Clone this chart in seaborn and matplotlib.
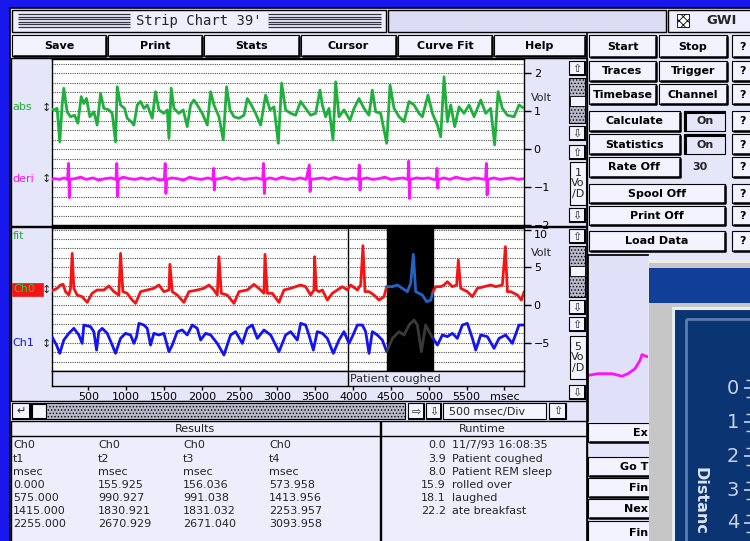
# -*- coding: utf-8 -*-
"""
Strip Chart 39' 화면 재현 (seaborn + matplotlib)
"""
import numpy as np
import pandas as pd
import matplotlib
matplotlib.use('Agg')
import matplotlib.pyplot as plt
from matplotlib.patches import Rectangle
import seaborn as sns

sns.set_theme(style='white')
plt.rcParams['font.family'] = ['DejaVu Sans']
plt.rcParams['hatch.linewidth'] = 0.6

# ============================================================================
# 데이터 (msec, Volt) - 화면에서 읽은 값
# ============================================================================
abs_t = [20, 44, 88, 123, 154, 176, 220, 265, 318, 362, 406, 441, 476, 520, 573, 617, 662, 706, 772, 816,
         860, 882, 926, 979, 1014, 1067, 1103, 1147, 1191, 1235, 1279, 1345, 1389, 1433, 1499, 1544, 1566,
         1596, 1632, 1698, 1755, 1808, 1852, 1896, 1940, 2007, 2073, 2117, 2161, 2227, 2284, 2328, 2373,
         2426, 2492, 2558, 2602, 2655, 2712, 2778, 2844, 2902, 2955, 3012, 3056, 3109, 3175, 3241, 3307,
         3373, 3439, 3505, 3563, 3594, 3638, 3682, 3735, 3770, 3814, 3880, 3960, 4013, 4079, 4145, 4211,
         4255, 4299, 4365, 4445, 4489, 4542, 4608, 4674, 4740, 4806, 4872, 4916, 4991, 5049, 5115, 5159,
         5203, 5247, 5291, 5344, 5401, 5467, 5534, 5600, 5688, 5754, 5820, 5872, 5917, 5974, 6040, 6128,
         6194, 6261]
abs_v = [1.05, 1.03, 1.07, 0.19, 1.16, 1.60, 0.98, 0.85, 0.89, 0.68, 1.38, 1.20, 1.33, 0.85, 0.98, 0.63,
         1.46, 1.07, 1.03, 0.94, 0.19, 1.64, 1.16, 1.07, 0.81, 0.72, 0.63, 1.16, 1.25, 1.07, 1.16, 0.81,
         1.51, 1.03, 0.94, 1.03, 0.28, 1.60, 1.07, 0.94, 1.03, 0.59, 1.16, 1.29, 1.16, 0.94, 0.63, 1.51,
         1.16, 0.85, 0.24, 1.64, 1.03, 0.85, 0.81, 0.89, 1.33, 1.16, 0.94, 0.63, 1.42, 1.03, 1.11, 0.15,
         1.73, 1.03, 0.94, 0.89, 1.25, 1.07, 0.89, 0.94, 1.55, 1.16, 0.85, 1.07, 0.24, 1.77, 0.85, 1.03,
         0.76, 1.07, 1.33, 1.07, 0.89, 1.55, 0.98, 0.94, 0.15, 1.68, 1.07, 0.85, 0.72, 1.25, 1.16, 0.94,
         0.85, 1.42, 0.94, 0.63, 0.32, 1.90, 0.72, 1.16, 0.59, 1.11, 0.94, 1.16, 0.85, 1.29, 0.94, 1.07,
         0.11, 1.51, 1.07, 0.89, 0.85, 1.16, 1.07]

deri_t = [20, 60, 120, 180, 225, 238, 248, 258, 320, 400, 470, 560, 640, 720, 800, 865, 877, 887, 897,
          960, 1040, 1120, 1200, 1280, 1360, 1440, 1505, 1516, 1526, 1536, 1600, 1680, 1760, 1840, 1920,
          2000, 2080, 2145, 2156, 2166, 2176, 2240, 2320, 2400, 2480, 2560, 2640, 2720, 2805, 2817, 2827,
          2837, 2900, 2980, 3060, 3140, 3220, 3300, 3380, 3422, 3432, 3442, 3520, 3600, 3680, 3760, 3840,
          3920, 4000, 4072, 4082, 4092, 4102, 4180, 4260, 4340, 4420, 4500, 4580, 4660, 4725, 4736, 4746,
          4756, 4840, 4920, 5000, 5060, 5100, 5110, 5120, 5130, 5200, 5280, 5360, 5440, 5520, 5600, 5680,
          5752, 5762, 5772, 5782, 5860, 5940, 6020, 6100, 6180, 6260]
deri_v = [-0.80, -0.78, -0.80, -0.76, -0.80, -0.38, -1.28, -0.80, -0.78, -0.74, -0.80, -0.76, -0.82,
          -0.78, -0.76, -0.80, -0.38, -1.25, -0.80, -0.74, -0.78, -0.80, -0.76, -0.80, -0.76, -0.82,
          -0.80, -0.38, -1.17, -0.80, -0.76, -0.78, -0.82, -0.74, -0.78, -0.80, -0.76, -0.80, -0.51,
          -1.08, -0.80, -0.78, -0.74, -0.80, -0.76, -0.80, -0.78, -0.76, -0.80, -0.38, -1.17, -0.80,
          -0.76, -0.80, -0.74, -0.78, -0.80, -0.76, -0.80, -0.42, -1.12, -0.80, -0.78, -0.76, -0.80,
          -0.74, -0.78, -0.80, -0.76, -0.80, -0.42, -1.08, -0.80, -0.76, -0.80, -0.78, -0.74, -0.80,
          -0.78, -0.76, -0.80, -0.32, -1.30, -0.80, -0.76, -0.78, -0.76, -0.80, -0.80, -0.51, -1.03,
          -0.80, -0.76, -0.80, -0.74, -0.78, -0.80, -0.76, -0.78, -0.80, -0.38, -1.21, -0.80, -0.76,
          -0.80, -0.78, -0.76, -0.80, -0.78]

ch0_t = [20, 44, 88, 132, 168, 198, 243, 265, 287, 309, 353, 419, 485, 551, 617, 706, 772, 838, 904,
         926, 957, 1014, 1080, 1125, 1191, 1279, 1367, 1433, 1499, 1566, 1579, 1610, 1676, 1764, 1830,
         1940, 2029, 2095, 2161, 2205, 2227, 2258, 2337, 2426, 2492, 2602, 2690, 2778, 2822, 2836, 2866,
         2933, 3021, 3087, 3175, 3307, 3373, 3439, 3483, 3492, 3514, 3550, 3594, 3660, 3726, 3792, 3858,
         3924, 3968, 4057, 4101, 4131, 4158, 4211, 4277, 4343, 4409, 4445, 4520, 4586, 4652, 4718, 4762,
         4797, 4828, 4872, 4916, 4974, 5027, 5057, 5093, 5159, 5203, 5247, 5313, 5370, 5392, 5423, 5511,
         5578, 5644, 5732, 5820, 5886, 5974, 6014, 6040, 6085, 6173, 6226, 6261]
ch0_v = [1.90, 1.99, 2.21, 2.65, 2.74, 1.77, 1.32, 2.21, 6.84, 2.21, 1.32, 1.10, 0.35, 1.55, 1.99, 1.99,
         2.52, 1.77, 1.32, 6.84, 1.77, 1.55, 0.66, 0.22, 1.77, 1.99, 2.21, 2.65, 1.77, 1.99, 5.39, 1.77,
         1.32, 0.35, 1.77, 1.99, 2.21, 2.65, 1.99, 1.32, 6.40, 1.55, 1.32, 0.22, 1.77, 1.99, 2.74, 1.99,
         1.55, 6.71, 1.55, 1.55, 0.35, 1.99, 2.21, 2.65, 2.43, 1.32, 1.99, 6.40, 1.99, 1.77, 1.99, 0.66,
         1.55, 1.99, 2.43, 1.99, 2.65, 1.99, 2.65, 7.86, 1.77, 1.77, 1.32, 0.66, 1.10, 2.43, 2.43, 2.65,
         2.21, 1.77, 2.87, 6.71, 1.77, 1.55, 1.32, 0.44, 0.66, 1.77, 2.43, 2.43, 2.65, 3.09, 2.43, 2.65,
         5.96, 2.21, 1.77, 1.10, 2.21, 2.43, 2.65, 2.43, 2.65, 7.73, 1.77, 1.77, 1.32, 0.66, 1.77]

ch1_t = [20, 44, 79, 123, 176, 243, 309, 375, 419, 441, 529, 573, 609, 639, 684, 750, 816, 860, 926,
         992, 1058, 1103, 1138, 1169, 1235, 1279, 1323, 1367, 1433, 1499, 1566, 1610, 1676, 1742, 1808,
         1874, 1940, 1985, 2051, 2117, 2205, 2293, 2381, 2448, 2536, 2602, 2668, 2734, 2822, 2911, 3021,
         3109, 3175, 3263, 3307, 3373, 3417, 3475, 3527, 3594, 3660, 3739, 3814, 3880, 3946, 3990, 4057,
         4123, 4167, 4211, 4255, 4321, 4387, 4445, 4520, 4608, 4674, 4740, 4806, 4850, 4903, 4960, 5005,
         5057, 5115, 5181, 5247, 5313, 5379, 5445, 5511, 5578, 5622, 5688, 5776, 5864, 5930, 6018, 6106,
         6194, 6261]
ch1_v = [-4.20, -4.64, -5.30, -6.40, -4.64, -3.75, -3.09, -3.97, -5.08, -2.65, -2.87, -3.53, -5.96,
         -3.53, -3.09, -3.75, -5.30, -6.40, -4.42, -3.75, -3.97, -5.08, -4.19, -2.43, -2.65, -3.09,
         -5.30, -3.75, -3.97, -3.75, -6.18, -5.30, -3.53, -3.31, -3.97, -2.65, -3.09, -4.64, -3.75,
         -3.97, -5.08, -6.62, -3.97, -3.53, -5.08, -3.09, -2.65, -4.42, -3.31, -3.97, -6.18, -3.97,
         -3.53, -4.64, -2.43, -2.65, -3.97, -5.96, -3.53, -3.75, -4.42, -6.40, -4.64, -3.53, -5.08,
         -4.19, -2.65, -2.65, -3.53, -6.40, -3.53, -3.97, -4.64, -6.18, -4.42, -3.53, -3.97, -2.65,
         -1.99, -2.65, -6.18, -2.65, -3.53, -4.42, -5.30, -3.97, -4.19, -3.75, -4.42, -2.65, -2.43,
         -4.42, -5.96, -3.97, -4.19, -5.74, -4.42, -3.97, -5.08, -2.65, -2.65]

# 작은 미리보기 패널의 트레이스
mini_t = [0, 10, 24, 34, 40, 47, 52, 54, 58, 61]
mini_v = [-0.45, -0.43, -0.43, -0.46, -0.43, -0.37, -0.27, -0.20, -0.22, -0.23]

# 커서 구간 / 이벤트
hl_start, hl_end = 4445, 5057
event_ms = 3930
event_label = 'Patient coughed'

# 축 눈금
top_yticks = [2, 1, 0, -1, -2]
bot_yticks = [10, 5, 0, -5]
x_ticks = [500, 1000, 1500, 2000, 2500, 3000, 3500, 4000, 4500, 5000, 5500, 6000]

# Results 표
res_cols = ['t1', 't2', 't3', 't4']
res_t1 = [0.000, 575.000, 1415.000, 2255.000]
res_t2 = [155.925, 990.927, 1830.921, 2670.929]
res_t3 = [156.036, 991.038, 1831.032, 2671.040]
res_t4 = [573.958, 1413.956, 2253.957, 3093.958]

# Runtime 로그
runtime_s = [0.0, 3.9, 8.0, 15.9, 18.1, 22.2]
runtime_note = ['11/7/93 16:08:35', 'Patient coughed', 'Patient REM sleep',
                'rolled over', 'laughed', 'ate breakfast']

# 색상
BLUE_BG = '#1818EC'
LAV = '#E6E6FA'
BTN = '#F3F3FF'
GREEN = '#1FAF3C'
MAGENTA = '#FF10FF'
RED = '#F41414'
BLUE = '#1414F0'
HL_BLUE = '#2464C4'
HL_DARK = '#3A3A3A'
LW = 2.0

W, H = 750, 541
fig = plt.figure(figsize=(7.5, 5.41), dpi=100)
fig.patch.set_facecolor(BLUE_BG)

ui = fig.add_axes([0, 0, 1, 1], zorder=0)
ui.set_xlim(0, W)
ui.set_ylim(H, 0)
ui.set_autoscale_on(False)
ui.axis('off')


def rect(x0, y0, x1, y1, fc, ec='black', lw=0.8, ax=ui, **kw):
    ax.add_patch(Rectangle((x0, y0), x1 - x0, y1 - y0, facecolor=fc, edgecolor=ec, linewidth=lw, **kw))


def line(xs, ys, color='black', lw=1.0, ax=ui):
    ax.plot(xs, ys, color=color, lw=lw, solid_capstyle='butt')


def button(x0, y0, x1, y1, label, fs=8, bold=True, ax=ui, tx=None, ha='center'):
    rect(x0, y0, x1, y1, BTN, ax=ax)
    line([x0 + 1, x1, x1], [y1, y1, y0 + 1], lw=1.8, ax=ax)
    if label:
        if tx is None:
            tx = (x0 + x1) / 2
        ax.text(tx, (y0 + y1) / 2 + 0.5, label, ha=ha, va='center', fontsize=fs,
                fontweight='bold' if bold else 'normal', color='black')


def arrow_btn(x0, y0, x1, y1, glyph):
    rect(x0, y0, x1, y1, BTN)
    line([x0 + 1, x1, x1], [y1, y1, y0 + 1], lw=1.4)
    ui.text((x0 + x1) / 2, (y0 + y1) / 2 + 0.5, glyph, ha='center', va='center', fontsize=8)


def px_axes(x0, y0, x1, y1, z=2):
    return fig.add_axes([x0 / W, 1 - y1 / H, (x1 - x0) / W, (y1 - y0) / H], zorder=z)


# ============================================================================
# 바탕 / 타이틀바 / 상단 버튼
# ============================================================================
rect(10, 8, 760, 560, LAV, lw=1.2)
rect(12, 10, 386, 32, '#EEEEFC', lw=1.0)
for yy in [14, 16.5, 19, 21.5, 24, 26.5]:
    line([18, 130], [yy, yy], color='#333344', lw=0.9)
    line([268, 381], [yy, yy], color='#333344', lw=0.9)
ui.text(199, 20.5, "Strip Chart 39'", ha='center', va='center', fontsize=10, family='DejaVu Sans Mono')
rect(388, 10, 666, 32, '#DCDCF4', lw=1.0)
rect(668, 10, 760, 32, '#EEEEFC', lw=1.0)
rect(677, 14, 689, 27, 'white', ec='black', lw=0.6, hatch='xxxx')
ui.text(722, 20.5, 'GWI', ha='center', va='center', fontsize=9.5, fontweight='bold')

top_buttons = [(12, 106, 'Save'), (108, 202, 'Print'), (204, 299, 'Stats'),
               (301, 396, 'Cursor'), (398, 492, 'Curve Fit'), (494, 585, 'Help')]
for x0, x1, lab in top_buttons:
    button(x0, 35, x1, 56, lab)

# 오른쪽 컨트롤 버튼
button(589, 35, 656, 57, 'Start')
button(659, 35, 727, 57, 'Stop')
button(589, 61, 656, 81, 'Traces')
button(659, 61, 727, 81, 'Trigger')
button(589, 84, 656, 104, 'Timebase')
button(659, 84, 727, 104, 'Channel')
button(589, 111, 680, 131, 'Calculate')
button(589, 134, 680, 154, 'Statistics')
button(589, 157, 680, 177, 'Rate Off')
for yy0, yy1 in [(111, 131), (134, 154)]:
    rect(684, yy0, 725, yy1, LAV, lw=0.8)
    line([685, 685, 725], [yy1, yy0 + 0.5, yy0 + 0.5], lw=2.2)
    ui.text(705, (yy0 + yy1) / 2 + 0.5, 'On', ha='center', va='center', fontsize=8, fontweight='bold')
ui.text(700, 167.5, '30', ha='center', va='center', fontsize=8, fontweight='bold')
button(589, 184, 725, 203, 'Spool Off')
button(589, 206, 725, 225, 'Print Off')
button(589, 231, 725, 251, 'Load Data')
for yy0, yy1 in [(35, 57), (61, 81), (84, 104), (111, 131), (134, 154), (157, 177),
                 (184, 203), (206, 225), (231, 251)]:
    button(732, yy0, 760, yy1, '?', tx=743)

line([587, 587], [33, 545], lw=1.2)

# ============================================================================
# 차트 패널 배경 / 왼쪽 라벨
# ============================================================================
rect(11, 58, 587, 226, LAV, lw=1.0)
rect(11, 227, 587, 401, LAV, lw=1.0)

ui.text(12, 107, 'abs', color=GREEN, fontsize=8, va='center')
ui.text(12, 179, 'deri', color=MAGENTA, fontsize=8, va='center')
ui.text(13, 236, 'fit', color=GREEN, fontsize=8, va='center')
rect(12, 283, 43, 296, RED, ec=RED, lw=0.5)
ui.text(13, 289.5, 'Ch0', color='#20D040', fontsize=8, va='center')
ui.text(12, 343, 'Ch1', color=BLUE, fontsize=8, va='center')
for yy in [108, 179, 290, 344]:
    ui.text(46, yy, '\u2195', fontsize=8, ha='center', va='center')

# 스크롤 컬럼 (위/아래 차트)
for (u0, s0, s1, th, d0, u1, b0, b1, d1, scale) in [
        (61, 78, 123, 96, 126, 145, 162, 205, 208, '1\nVo\n/D'),
        (229, 246, 297, 266, 300, 317, 336, 379, 385, '5\nVo\n/D')]:
    arrow_btn(569, u0, 585, u0 + 14, '\u21e7')
    rect(569, s0, 585, s1, '#B8B8C8', ec='black', lw=0.8, hatch='.....')
    rect(570, th, 585, th + 10, '#F4F4FF', lw=0.6)
    arrow_btn(569, d0, 585, d0 + 14, '\u21e9')
    arrow_btn(569, u1, 585, u1 + 14, '\u21e7')
    rect(570, b0, 586, b1, '#F4F4FF', lw=0.8)
    ui.text(578, (b0 + b1) / 2, scale, ha='center', va='center', fontsize=8, linespacing=1.05)
    arrow_btn(569, d1, 585, d1 + 14, '\u21e9')

ui.text(531, 98, 'Volt', fontsize=8, va='center')
ui.text(531, 253, 'Volt', fontsize=8, va='center')

# 하단 스크롤 줄
arrow_btn(12, 403, 30, 419, '\u21b5')
rect(31, 403, 405, 419, '#B8B8C8', ec='black', lw=0.8, hatch='.....')
rect(32, 404, 46, 418, '#F4F4FF', lw=0.8)
arrow_btn(408, 403, 424, 419, '\u21e8')
arrow_btn(426, 403, 441, 419, '\u21e9')
rect(443, 403, 546, 419, '#F4F4FF', lw=0.8)
ui.text(449, 411.5, '500 msec/Div', fontsize=8, va='center')
arrow_btn(549, 403, 566, 419, '\u21e7')

# ============================================================================
# 위 차트 : abs / deri
# ============================================================================
def style_chart(ax, ylim, majors, minors, labels):
    ax.set_facecolor('white')
    for s in ax.spines.values():
        s.set_visible(True)
        s.set_color('black')
        s.set_linewidth(1.0)
    ax.set_xlim(20, 6260)
    ax.set_ylim(*ylim)
    ax.set_xticks([])
    ax.set_yticks(majors)
    ax.set_yticklabels(labels)
    ax.set_yticks(minors, minor=True)
    ax.yaxis.tick_right()
    ax.tick_params(axis='y', which='major', right=True, left=False, labelright=True, labelleft=False,
                   direction='out', length=5, width=1, color='black', labelsize=8, labelcolor='black', pad=2)
    ax.tick_params(axis='y', which='minor', length=0)
    ax.set_axisbelow(True)
    ax.grid(True, which='both', axis='y', color='#505050', linestyle=(0, (1, 1)), linewidth=0.8)
    ax.set_xlabel('')
    ax.set_ylabel('')


ax1 = px_axes(52, 59, 524, 225)
sns.lineplot(x=abs_t, y=abs_v, ax=ax1, color=GREEN, lw=LW, estimator=None, sort=False, zorder=3)
sns.lineplot(x=deri_t, y=deri_v, ax=ax1, color=MAGENTA, lw=LW, estimator=None, sort=False, zorder=3)
style_chart(ax1, (-2.0, 2.37), top_yticks, np.arange(-1.75, 2.3, 0.25),
            ['2', '1', '0', '\u22121', '\u22122'])

# ============================================================================
# 아래 차트 : Ch0 / Ch1
# ============================================================================
ax2 = px_axes(52, 228, 524, 371)
ax2.axvspan(hl_start, hl_end, color='black', zorder=1.5)
ax2.axvline(event_ms, color='black', lw=1.0, zorder=2)


def split_plot(ax, t, v, c_out, c_in):
    df = pd.DataFrame({'t': t, 'v': v})
    parts = [(df[df.t <= hl_start], c_out),
             (df[(df.t >= hl_start) & (df.t <= hl_end)], c_in),
             (df[df.t >= hl_end], c_out)]
    for part, c in parts:
        sns.lineplot(data=part, x='t', y='v', ax=ax, color=c, lw=LW, estimator=None, sort=False, zorder=3)


split_plot(ax2, ch0_t, ch0_v, RED, HL_BLUE)
split_plot(ax2, ch1_t, ch1_v, BLUE, HL_DARK)
style_chart(ax2, (-8.74, 10.2), bot_yticks, np.arange(-7.5, 8.8, 1.25),
            ['10', '5', '0', '\u22125'])
ax2.get_yticklabels()[0].set_va('top')

# 이벤트 줄 + x축
ax_ev = px_axes(52, 371, 524, 386)
ax_ev.set_facecolor(LAV)
for s in ax_ev.spines.values():
    s.set_visible(True)
    s.set_color('black')
    s.set_linewidth(1.0)
ax_ev.set_xlim(20, 6260)
ax_ev.set_ylim(0, 1)
ax_ev.set_yticks([])
ax_ev.set_xticks(x_ticks)
ax_ev.set_xticklabels([str(x) for x in x_ticks[:-1]] + ['msec'])
ax_ev.tick_params(axis='x', bottom=True, direction='out', length=3, width=1, color='black',
                  labelsize=8, labelcolor='black', pad=1.5)
ax_ev.axvline(event_ms, color='black', lw=1.0)
ax_ev.text(event_ms + 30, 0.45, event_label, fontsize=8, va='center', ha='left')

# ============================================================================
# Results / Runtime
# ============================================================================
rect(11, 421, 380, 560, '#EDEDFB', lw=1.0)
line([11, 380], [436, 436], lw=1.0)
ui.text(195, 429, 'Results', ha='center', va='center', fontsize=8)
res_x = [13, 98, 183, 269]
res_y = [445, 458.5, 472, 485, 498, 511, 524]
for i, (col, vals) in enumerate(zip(res_cols, [res_t1, res_t2, res_t3, res_t4])):
    cells = ['Ch0', col, 'msec'] + [f'{v:.3f}' for v in vals]
    for yy, txt in zip(res_y, cells):
        ui.text(res_x[i], yy, txt, fontsize=8, va='center')

rect(381, 421, 587, 560, '#EDEDFB', lw=1.0)
line([381, 587], [436, 436], lw=1.0)
ui.text(482, 429, 'Runtime', ha='center', va='center', fontsize=8)
for yy, s, note in zip(res_y, runtime_s, runtime_note):
    ui.text(446, yy, f'{s:.1f}', ha='right', va='center', fontsize=8)
    ui.text(452, yy, note, ha='left', va='center', fontsize=8)

# 오른쪽 아래 버튼 (겹친 창에 가려진 부분)
for yy0, yy1, lab in [(423, 442, 'Ex'), (457, 476, 'Go T'), (478, 497, 'Fin'),
                      (499, 518, 'Nex'), (521, 545, 'Fin')]:
    button(588, yy0, 660, yy1, lab, tx=648, ha='right')

# 미니 트레이스 패널
axm = px_axes(588, 255, 648, 421, z=2)
axm.set_facecolor('#E0E0F8')
sns.lineplot(x=mini_t, y=mini_v, ax=axm, color=MAGENTA, lw=LW, estimator=None, sort=False)
axm.set_xlim(0, 60)
axm.set_ylim(-1, 1)
axm.set_xticks([])
axm.set_yticks([])
for k, s in axm.spines.items():
    s.set_visible(k in ('left', 'top'))
    s.set_color('black')

# ============================================================================
# 오른쪽 아래 겹친 창
# ============================================================================
ov = fig.add_axes([0, 0, 1, 1], zorder=10)
ov.set_xlim(0, W)
ov.set_ylim(H, 0)
ov.set_autoscale_on(False)
ov.axis('off')
ov.patch.set_alpha(0)
rect(649, 260, 760, 560, '#C6C6C6', ec='none', lw=0, ax=ov)
rect(649, 260, 760, 263, '#ECECEC', ec='none', lw=0, ax=ov)
rect(649, 268, 760, 303, '#103E98', ec='none', lw=0, ax=ov)
rect(673, 308, 770, 560, '#0B3472', ec='#E4F0F0', lw=2.2, ax=ov)
rect(686, 319, 770, 560, 'none', ec='#5B7DB0', lw=2.0, ax=ov)
for k, yy in enumerate([388, 422, 456, 490, 523]):
    ov.text(733, yy, str(k), ha='center', va='center', fontsize=14, color='#C9D3E6')
    line([744, 750], [yy, yy], color='#C9D3E6', lw=1.2, ax=ov)
    line([746, 750], [yy + 8.5, yy + 8.5], color='#C9D3E6', lw=1.0, ax=ov)
    line([746, 750], [yy - 8.5, yy - 8.5], color='#C9D3E6', lw=1.0, ax=ov)
ov.text(700, 467, 'Distanc', rotation=270, ha='center', va='top', fontsize=11.5,
        fontweight='bold', color='#DCE4F0')

plt.savefig('out.png', dpi=100, facecolor=fig.get_facecolor())
plt.close()
